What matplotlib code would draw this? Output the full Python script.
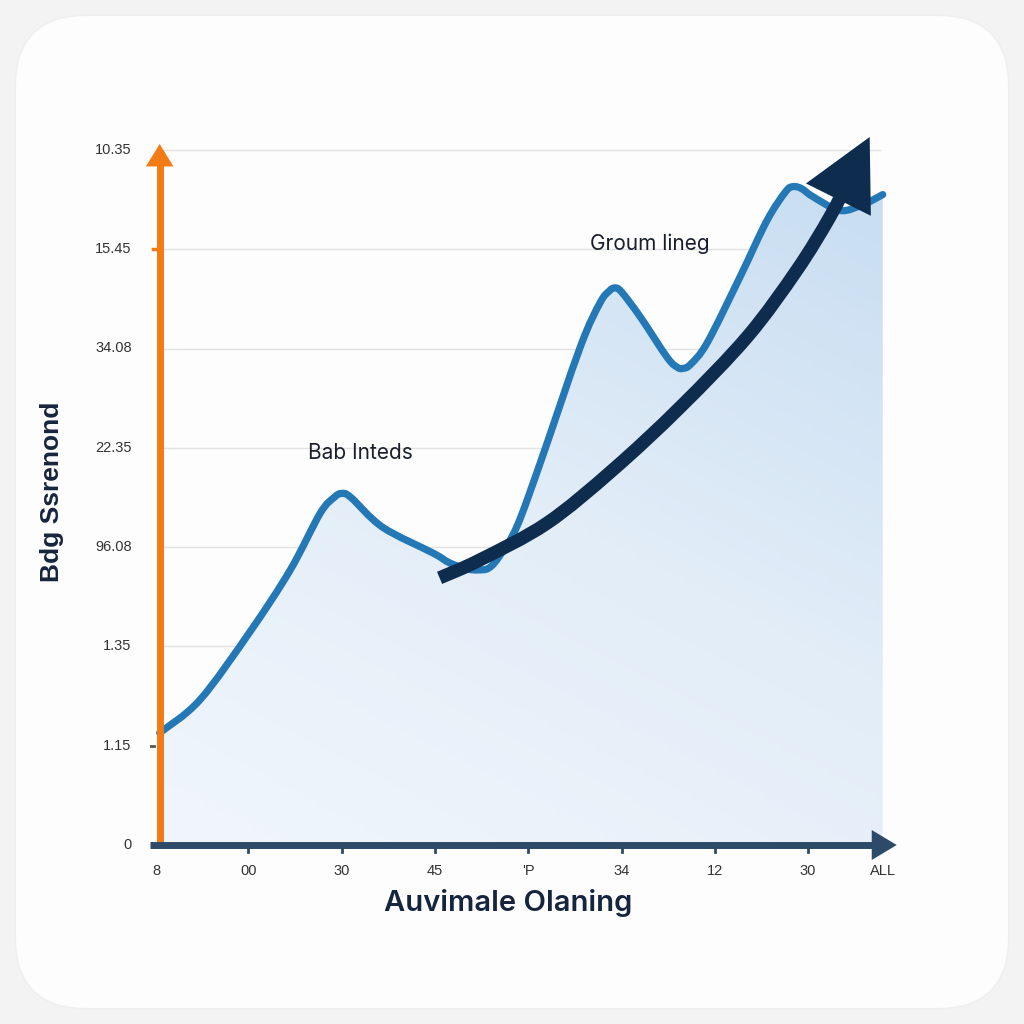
import numpy as np
import matplotlib
matplotlib.use("Agg")
import matplotlib.pyplot as plt
from matplotlib.patches import FancyBboxPatch, PathPatch
from matplotlib.path import Path
from matplotlib.colors import LinearSegmentedColormap

# ---- data ----
line_x = [0.05, 0.48, 1.02, 1.45, 1.77, 1.92, 2.00, 2.10, 2.44, 2.98, 3.16, 3.35, 3.46, 3.58,
          3.70, 3.88, 4.13, 4.56, 4.77, 4.87, 4.93, 5.00, 5.20, 5.49, 5.60, 5.66, 5.74,
          5.92, 6.27, 6.56, 6.76, 6.84, 6.93, 7.05, 7.34, 7.59, 7.80]
line_y = [1.13, 1.46, 2.15, 2.77, 3.34, 3.50, 3.54, 3.50, 3.20, 2.94, 2.84, 2.78, 2.77, 2.79,
          2.92, 3.21, 3.85, 5.02, 5.46, 5.58, 5.61, 5.57, 5.32, 4.91, 4.81, 4.80, 4.84,
          5.06, 5.72, 6.29, 6.58, 6.63, 6.61, 6.53, 6.39, 6.45, 6.55]

trend_x = [3.05, 3.48, 4.20, 4.91, 5.63, 6.35, 6.88, 7.23, 7.45]
trend_y = [2.69, 2.87, 3.24, 3.78, 4.41, 5.12, 5.79, 6.32, 6.72]
trend_head_tip = (7.66, 7.13)

y_tick_pos = [0, 1, 2, 3, 4, 5, 6, 7]
y_tick_labels = ["0", "1.15", "1.35", "96.08", "22.35", "34.08", "15.45", "10.35"]
x_tick_pos = [0.02, 1, 2, 3, 4, 5, 6, 7, 7.8]
x_tick_labels = ["8", "00", "30", "45", "'P", "34", "12", "30", "ALL"]

x_label = "Auvimale Olaning"
y_label = "Bdg Ssrenond"
annotations = [("Bab Inteds", 2.2, 3.95), ("Groum lineg", 5.3, 6.05)]


def smooth_path_vertices(xs, ys):
    """Catmull-Rom spline through the points, expressed as cubic Bezier segments."""
    P = np.column_stack([xs, ys]).astype(float)
    n = len(P)
    verts = [P[0]]
    codes = [Path.MOVETO]
    for i in range(n - 1):
        p0 = P[i - 1] if i > 0 else P[i]
        p1 = P[i]
        p2 = P[i + 1]
        p3 = P[i + 2] if i + 2 < n else P[i + 1]
        c1 = p1 + (p2 - p0) / 6.0
        c2 = p2 - (p3 - p1) / 6.0
        verts += [c1, c2, p2]
        codes += [Path.CURVE4] * 3
    return verts, codes


# ---- figure ----
W = H = 1024
fig = plt.figure(figsize=(10.24, 10.24), dpi=100)
fig.patch.set_facecolor("#f3f3f3")
card = FancyBboxPatch((0.015, 0.015), 0.97, 0.97, boxstyle="round,pad=0,rounding_size=0.07",
                      transform=fig.transFigure, facecolor="#fdfdfd", edgecolor="#efefef",
                      linewidth=1.0, zorder=-5)
fig.patches.append(card)

# axes placement: x=0 at px 155, 93.3 px/unit ; y=0 at px 845, 99.3 px/unit
xl = (-0.1, 8.0)
yl = (-0.1, 7.2)
px_x, px_y = 93.3, 99.3
left = 155 + xl[0] * px_x
right = 155 + xl[1] * px_x
bottom = 845 + (-yl[0]) * px_y
top = 845 - yl[1] * px_y
ax = fig.add_axes([left / W, 1 - bottom / H, (right - left) / W, (bottom - top) / H])
ax.set_zorder(2)
ax.set_xlim(*xl)
ax.set_ylim(*yl)
ax.patch.set_alpha(0)
for s in ax.spines.values():
    s.set_visible(False)
ax.set_xticks([])
ax.set_yticks([])

# gridlines
for yv in y_tick_pos[1:]:
    ax.plot([0.05, 7.77], [yv, yv], color="#e2e2e2", lw=1.0, zorder=1)

# smooth line path
lv, lc = smooth_path_vertices(line_x, line_y)

# gradient fill under line
fv = [np.array([line_x[0], 0.0])] + [np.array([line_x[0], line_y[0]])] + lv[1:] + \
     [np.array([line_x[-1], 0.0]), np.array([line_x[0], 0.0])]
fc = [Path.MOVETO, Path.LINETO] + lc[1:] + [Path.LINETO, Path.CLOSEPOLY]
clip = PathPatch(Path(np.array(fv), fc), transform=ax.transData,
                 facecolor="none", edgecolor="none")
ax.add_patch(clip)
gx = np.linspace(0, 1, 200)
gy = np.linspace(0, 1, 200)
GX, GY = np.meshgrid(gx, gy)
G = 0.65 * GY + 0.35 * GX
cmap = LinearSegmentedColormap.from_list("fill", ["#f1f6fc", "#e2edf8", "#c6dcf1"])
im = ax.imshow(G, extent=(0.05, 7.8, 0, 7.0), origin="lower", cmap=cmap, aspect="auto",
               zorder=2, vmin=0, vmax=1)
im.set_clip_path(clip)

# main line
ax.add_patch(PathPatch(Path(np.array(lv), lc), facecolor="none", edgecolor="#2478b6",
                       lw=5.2, capstyle="round", joinstyle="round", zorder=4))

# trend arrow
tv, tc = smooth_path_vertices(trend_x, trend_y)
ax.add_patch(PathPatch(Path(np.array(tv), tc), facecolor="none", edgecolor="#0d2c4e",
                       lw=9.5, capstyle="butt", joinstyle="round", zorder=5))
ax.annotate("", xy=trend_head_tip, xytext=(trend_x[-2], trend_y[-2]),
            arrowprops=dict(arrowstyle="-|>,head_length=2.8,head_width=1.45", color="#0d2c4e",
                            lw=0, mutation_scale=18, shrinkA=0, shrinkB=0), zorder=6)

# orange y axis
ax.plot([0.05, 0.05], [-0.02, 6.95], color="#f27b16", lw=5.0, zorder=7, solid_capstyle="butt")
ax.annotate("", xy=(0.05, 7.06), xytext=(0.05, 6.8),
            arrowprops=dict(arrowstyle="-|>,head_length=0.9,head_width=0.55", color="#f27b16",
                            lw=0, mutation_scale=18, shrinkA=0, shrinkB=0), zorder=7)
ax.plot([-0.02, 0.05], [6, 6], color="#f27b16", lw=2.5, zorder=7)
ax.plot([-0.04, -0.01], [1, 1], color="#555555", lw=2.0, zorder=7)

# x axis
ax.plot([-0.05, 7.75], [0, 0], color="#2d4a68", lw=5.0, zorder=8, solid_capstyle="butt")
ax.annotate("", xy=(7.95, 0), xytext=(7.7, 0),
            arrowprops=dict(arrowstyle="-|>,head_length=1.0,head_width=0.6", color="#2d4a68",
                            lw=0, mutation_scale=18, shrinkA=0, shrinkB=0), zorder=8)
for xv in x_tick_pos[1:-1]:
    ax.plot([xv, xv], [0, -0.07], color="#2d4a68", lw=2.0, zorder=8)

font = "Liberation Sans"
# tick labels
for yv, lab in zip(y_tick_pos, y_tick_labels):
    ax.text(-0.25, yv, lab, ha="right", va="center", fontsize=10.5, color="#333333",
            family=font, clip_on=False)
for xv, lab in zip(x_tick_pos, x_tick_labels):
    ax.text(xv, -0.26, lab, ha="center", va="center", fontsize=10.5, color="#333333",
            family=font, clip_on=False)

# axis titles
fig.text(508 / W, 1 - 903 / H, x_label, ha="center", va="center", fontsize=21,
         color="#16253d", family="Inter", weight="semibold")
fig.text(52 / W, 1 - 492 / H, y_label, ha="center", va="center", fontsize=19,
         color="#16253d", family=font, weight="bold", rotation=90)

for txt, ax_x, ax_y in annotations:
    ax.text(ax_x, ax_y, txt, ha="center", va="center", fontsize=15, color="#1a1f2e",
            family="Inter", zorder=9)

fig.savefig("out.png", dpi=100, facecolor=fig.get_facecolor())
